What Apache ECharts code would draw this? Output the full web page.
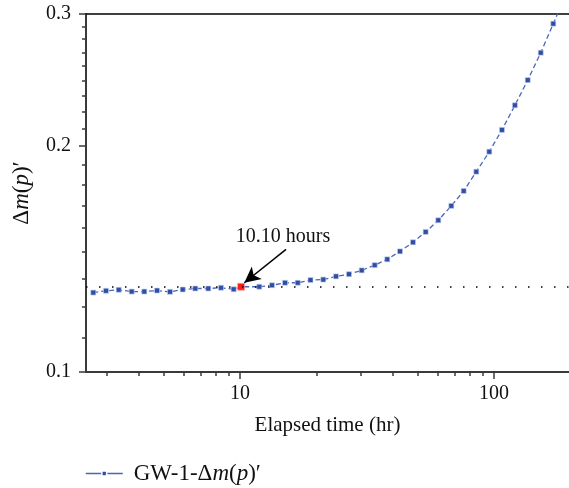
<!DOCTYPE html>
<html><head><meta charset="utf-8">
<script src="https://cdn.jsdelivr.net/npm/echarts@6/dist/echarts.min.js"></script>
<style>html,body{margin:0;padding:0;background:#fff}#c{width:569px;height:488px}</style>
</head><body><div id="c"></div>
<script>
// ---- data ----
const timeHr = [2.645,2.968,3.331,3.747,4.201,4.713,5.302,5.950,6.668,7.503,8.418,9.445,10.10,11.91,13.37,15.04,16.88,18.95,21.28,23.88,26.86,30.14,33.91,38.01,42.66,47.98,53.84,60.36,67.92,75.98,85.19,95.83,107.5,120.9,135.8,152.8,171.2,192.1];
const dmp = [0.1276,0.1283,0.1287,0.1280,0.1280,0.1284,0.1279,0.1288,0.1292,0.1292,0.1295,0.1289,0.1299,0.1299,0.1305,0.1315,0.1315,0.1326,0.1328,0.1341,0.1350,0.1366,0.1388,0.1413,0.1448,0.1489,0.1537,0.1593,0.1665,0.1743,0.1849,0.1966,0.2102,0.2267,0.2449,0.2664,0.2912,0.3185];
const markedTime = 10.10;
const baselineValue = 0.1288;
const arrowFrom = [15.18, 0.1457];
const arrowTo = [10.40, 0.1315];
const annotationAt = [14.77, 0.1513];
const annotationText = '10.10 hours';
const xTickLabels = [10, 100];
const xMinorTicks = [3,4,5,6,7,8,9,20,30,40,50,60,70,80,90];
const yTickLabels = [0.1, 0.2, 0.3];
const xRange = [2.476, 197.4];
const yRange = [0.1, 0.3];
const seriesName = 'GW-1-Δm(p)′';

// minor y ticks: 8 per major interval
const yMinorTicks = [];
for (let i = 0; i < yTickLabels.length - 1; i++) {
  const a = yTickLabels[i], b = yTickLabels[i + 1];
  for (let k = 1; k < 9; k++) yMinorTicks.push(+(a + (b - a) * k / 9).toFixed(6));
}

const FONT = '"Liberation Serif", "DejaVu Serif", serif';
const AX = '#3a3a3a';
function richOf(size) {
  return {
    n: {fontFamily: FONT, fontSize: size, color: '#111'},
    i: {fontFamily: FONT, fontSize: size, color: '#111', fontStyle: 'italic'}
  };
}

const pts = timeHr.map((t, i) => {
  const item = {value: [t, dmp[i]]};
  if (t === markedTime) item.itemStyle = {color: '#ff1a1a', borderColor: '#ffb0b0'};
  if (t === markedTime) item.symbolSize = 7;
  return item;
});

const chart = echarts.init(document.getElementById('c'), null, {renderer: 'canvas'});
chart.setOption({
  animation: false,
  backgroundColor: '#fff',
  grid: {left: 86, top: 14, right: 0, bottom: 116, containLabel: false},
  xAxis: [
    {
      type: 'log', min: xRange[0], max: xRange[1], position: 'bottom',
      name: 'Elapsed time (hr)', nameLocation: 'middle', nameGap: 43,
      nameTextStyle: {fontFamily: FONT, fontSize: 21, color: '#111'},
      axisLine: {show: true, lineStyle: {color: AX, width: 2}},
      axisTick: {show: true, customValues: xTickLabels, length: 7, lineStyle: {color: AX, width: 1.5}},
      axisLabel: {show: true, customValues: xTickLabels, margin: 12, fontFamily: FONT, fontSize: 20, color: '#111'},
      splitLine: {show: false}, minorTick: {show: false}
    },
    {
      type: 'log', min: xRange[0], max: xRange[1], position: 'bottom', offset: 0,
      axisLine: {show: false},
      axisTick: {show: true, customValues: xMinorTicks, length: 4, lineStyle: {color: AX, width: 1.5}},
      axisLabel: {show: false}, splitLine: {show: false}
    },
    {
      type: 'log', min: xRange[0], max: xRange[1], position: 'top', offset: 0,
      axisLine: {show: true, lineStyle: {color: '#000', width: 1.5}},
      axisTick: {show: false}, axisLabel: {show: false}, splitLine: {show: false}
    }
  ],
  yAxis: [
    {
      type: 'log', min: yRange[0], max: yRange[1], position: 'left',
      name: '{n|Δ}{i|m}{n|(}{i|p}{n|)′}', nameLocation: 'middle', nameGap: 53, nameRotate: 90,
      nameTextStyle: {rich: richOf(23)},
      axisLine: {show: true, lineStyle: {color: AX, width: 2}},
      axisTick: {show: true, customValues: yTickLabels, length: 7, lineStyle: {color: AX, width: 1.5}},
      axisLabel: {show: true, customValues: yTickLabels, margin: 15, fontFamily: FONT, fontSize: 20, color: '#111',
        formatter: v => (+v).toFixed(1)},
      splitLine: {show: false}, minorTick: {show: false}
    },
    {
      type: 'log', min: yRange[0], max: yRange[1], position: 'left', offset: 0,
      axisLine: {show: false},
      axisTick: {show: true, customValues: yMinorTicks, length: 4, lineStyle: {color: AX, width: 1.5}},
      axisLabel: {show: false}, splitLine: {show: false}
    }
  ],
  legend: {
    show: true, left: 80, top: 457, itemWidth: 37, itemHeight: 6, itemGap: 10,
    data: [seriesName],
    lineStyle: {type: 'solid', width: 1.5, color: '#4a66bb'},
    itemStyle: {color: '#2f4ea6', borderColor: '#ffffff', borderWidth: 1.5},
    formatter: () => '{n|GW-1-Δ}{i|m}{n|(}{i|p}{n|)′}',
    textStyle: {rich: richOf(23), padding: [0, 0, 0, 6]}
  },
  series: [{
    name: seriesName, type: 'line', xAxisIndex: 0, yAxisIndex: 0,
    data: pts, symbol: 'rect', symbolSize: 5, showSymbol: true,
    clip: true,
    lineStyle: {color: '#4a66bb', width: 1.3, type: [5, 3]},
    itemStyle: {color: '#2f4ea6', borderColor: '#c8d2ee', borderWidth: 0.6},
    markLine: {
      silent: true, animation: false, symbol: 'none',
      label: {show: false},
      emphasis: {disabled: true},
      data: [
        [{coord: arrowFrom, symbol: 'none', lineStyle: {color: '#000', width: 1.5, type: 'solid'}},
         {coord: arrowTo, symbol: 'arrow', symbolSize: [12, 16]}],
        {yAxis: baselineValue, lineStyle: {color: '#000', width: 1.5, type: [1.5, 11.5]}}
      ]
    },
    markPoint: {
      silent: true, animation: false, symbol: 'circle', symbolSize: 0,
      data: [{coord: annotationAt, value: annotationText,
        label: {show: true, position: 'inside', formatter: annotationText,
          fontFamily: FONT, fontSize: 20, color: '#111'}}]
    }
  }]
});
</script></body></html>
